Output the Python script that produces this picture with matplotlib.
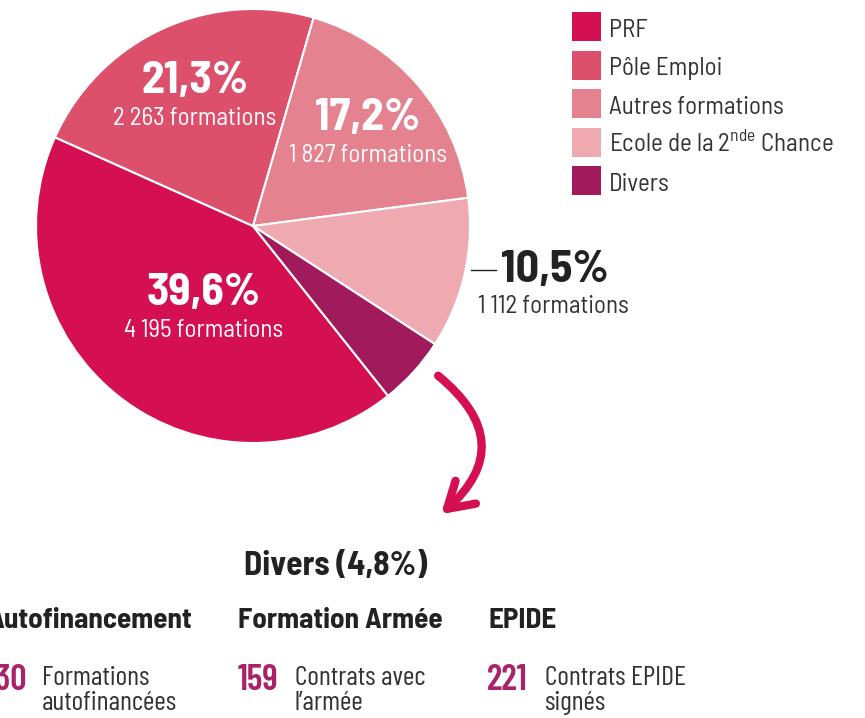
import matplotlib
matplotlib.use("Agg")
import matplotlib.pyplot as plt
from matplotlib.patches import FancyArrowPatch, Rectangle

# données
labels = ['PRF', 'Pôle Emploi', 'Autres formations',
          'Ecole de la 2$^{\\mathrm{nde}}$ Chance', 'Divers']
parts = [39.6, 21.3, 17.2, 10.5, 4.8]
formations = ['4 195', '2 263', '1 827', '1 112', None]
colors = ['#D40F52', '#DC506C', '#E4828F', '#EEAAB0', '#A11A5B']

divers_cols = ['Autofinancement', 'Formation Armée', 'EPIDE']
divers_nums = ['30', '159', '221']
divers_desc = ['Formations\nautofinancées', 'Contrats avec\nl\u2019armée', 'Contrats EPIDE\nsignés']

FONT = ['Barlow Semi Condensed', 'Roboto Condensed', 'DejaVu Sans']
COND = ['Barlow Condensed', 'Barlow Semi Condensed', 'DejaVu Sans']
plt.rcParams['font.family'] = FONT
plt.rcParams['mathtext.fontset'] = 'custom'
plt.rcParams['mathtext.rm'] = 'Barlow Semi Condensed'
dark = '#222222'
grey = '#333333'
numcol = '#A9226A'

W, H = 865, 718
fig = plt.figure(figsize=(W / 100, H / 100), dpi=100)
ax = fig.add_axes([0, 0, 1, 1])

def Y(y):
    return H - y

wedges, _ = ax.pie(parts, colors=colors, startangle=-51.5, counterclock=False,
                   center=(253, Y(226)), radius=217, frame=True,
                   wedgeprops=dict(edgecolor='white', linewidth=1.5))
ax.set_xlim(0, W)
ax.set_ylim(0, H)
ax.set_aspect('equal')
ax.axis('off')

def pct(v):
    return '{:.1f}%'.format(v).replace('.', ',')

# étiquettes dans les parts
inner = [(204, 305, 0), (195, 93, 1), (368, 130, 2)]
for x, y, i in inner:
    ax.text(x, Y(y), pct(parts[i]), color='white', fontsize=33,
            fontweight='bold', ha='center', va='baseline')
    ax.text(x, Y(y + 32), formations[i] + ' formations', color='white',
            fontsize=18, ha='center', va='baseline')

# part Ecole: étiquette extérieure
ax.plot([471, 496], [Y(270), Y(270)], color=dark, lw=1)
ax.text(501, Y(282), pct(parts[3]), color=dark, fontsize=33,
        fontweight='bold', ha='left', va='baseline')
ax.text(478, Y(313), formations[3] + ' formations', color=grey,
        fontsize=18, ha='left', va='baseline')

# légende
for i, lab in enumerate(labels):
    top = 12 + i * 38.5
    ax.add_patch(Rectangle((572, Y(top + 29)), 29, 29, color=colors[i], lw=0))
    ax.text(609, Y(top + 25), lab, color=grey, fontsize=18,
            ha='left', va='baseline')

# flèche
arrow = FancyArrowPatch((436, Y(374)), (439, Y(516)),
                        connectionstyle='arc3,rad=-0.6',
                        arrowstyle='->,head_length=0.9,head_width=0.55',
                        color='#D40F52', lw=6, mutation_scale=20)
ax.add_patch(arrow)

# bloc Divers
ax.text(336, Y(575), 'Divers (4,8%)', color=dark, fontsize=24,
        fontweight='bold', ha='center', va='baseline')
head_x = [192, 238, 488]
head_ha = ['right', 'left', 'left']
num_right = [27, 278, 528]
desc_x = [42, 295, 545]
for i in range(3):
    ax.text(head_x[i], Y(628), divers_cols[i], color=dark, fontsize=21,
            fontweight='bold', ha=head_ha[i], va='baseline')
    ax.text(num_right[i], Y(690), divers_nums[i], color=numcol, fontsize=26,
            fontweight='semibold', family=COND, ha='right', va='baseline')
    l1, l2 = divers_desc[i].split('\n')
    ax.text(desc_x[i], Y(685), l1, color=grey, fontsize=20,
            family=COND, ha='left', va='baseline')
    ax.text(desc_x[i], Y(710), l2, color=grey, fontsize=20,
            family=COND, ha='left', va='baseline')

plt.savefig('out.png', dpi=100)
